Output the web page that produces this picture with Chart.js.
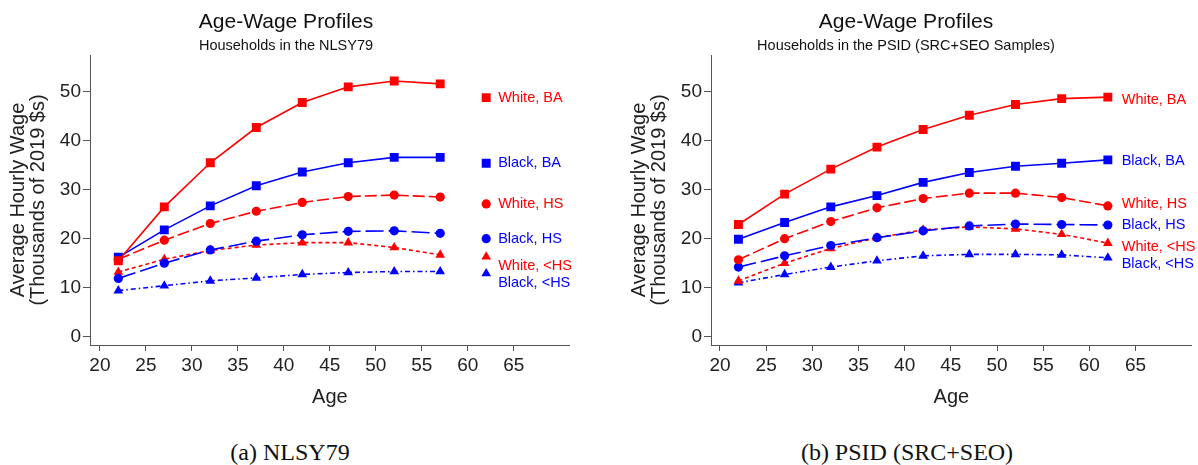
<!DOCTYPE html>
<html><head><meta charset="utf-8">
<script src="https://cdn.jsdelivr.net/npm/chart.js@4.4.1/dist/chart.umd.min.js"></script>
<style>
html,body{margin:0;padding:0;background:#fff;width:1198px;height:465px;overflow:hidden;position:relative}
canvas{position:absolute;top:0}
#ca{left:0}
#cb{left:620px}
.cap{position:absolute;top:440px;font-family:"Liberation Serif","Times New Roman",serif;font-size:24px;line-height:24px;white-space:nowrap;transform:translateX(-50%);color:#111}
</style></head><body>
<canvas id="ca" width="576" height="420"></canvas>
<canvas id="cb" width="578" height="420"></canvas>
<div class="cap" style="left:290px">(a) NLSY79</div>
<div class="cap" style="left:907px">(b) PSID (SRC+SEO)</div>
<script>
// ---- data ----
const xTicks = [20,25,30,35,40,45,50,55,60,65];
const yTicks = [0,10,20,30,40,50];
const seriesNames = ['White, BA','Black, BA','White, HS','Black, HS','White, <HS','Black, <HS'];

const agesNLSY = [22,27,32,37,42,47,52,57];
const nlsyWhiteBA  = [15.5,26.5,35.5,42.7,47.8,51.0,52.2,51.6];
const nlsyBlackBA  = [16.2,21.8,26.7,30.8,33.6,35.5,36.6,36.6];
const nlsyWhiteHS  = [15.8,19.7,23.1,25.6,27.4,28.6,28.9,28.5];
const nlsyBlackHS  = [11.9,15.0,17.7,19.5,20.8,21.5,21.6,21.1];
const nlsyWhiteLHS = [13.2,15.8,17.6,18.7,19.2,19.2,18.2,16.7];
const nlsyBlackLHS = [9.4,10.4,11.4,12.0,12.7,13.1,13.3,13.3];
const nlsyKeyAge = 62;
const nlsyKeyY   = [48.8,35.4,27.1,20.0,16.3,12.9];
const nlsyLabelAge = 63.3;
const nlsyLabelY = [48.8,35.4,27.1,20.0,14.4,10.9];

const agesPSID = [22,27,32,37,42,47,52,57,62];
const psidWhiteBA  = [22.9,29.1,34.2,38.7,42.3,45.2,47.4,48.6,48.9];
const psidBlackBA  = [19.9,23.3,26.5,28.8,31.5,33.5,34.8,35.4,36.1];
const psidWhiteHS  = [15.7,20.0,23.5,26.3,28.2,29.3,29.3,28.4,26.7];
const psidBlackHS  = [14.2,16.5,18.6,20.2,21.6,22.6,23.0,22.9,22.8];
const psidWhiteLHS = [11.4,15.0,18.0,20.2,21.8,22.4,22.0,20.9,19.1];
const psidBlackLHS = [11.0,12.7,14.2,15.5,16.5,16.8,16.8,16.7,16.1];
const psidLabelAge = 63.5;
const psidLabelY = [48.3,35.9,27.0,22.8,18.4,14.8];

// ---- styles ----
const FAM = '"Liberation Sans", Arial, Helvetica, sans-serif';
const RED = 'rgb(255,0,0)', BLUE = 'rgb(0,0,255)';
const colors = [RED,BLUE,RED,BLUE,RED,BLUE];
const styles = ['rect','rect','circle','circle','triangle','triangle'];
const radii  = [6.3,6.3,4.6,4.6,5.6,5.6];
const dashes = [[],[],[12,4],[18,5],[4,3],[5,3,1.5,3]];
const AX = '#555';

function pts(xs, ys){ return ys.map((v,i)=>({x:xs[i], y:v})); }

function lineDatasets(ages, arrs){
  return arrs.map((a,i)=>({
    label: seriesNames[i], data: pts(ages,a),
    borderColor: colors[i], backgroundColor: colors[i],
    pointBackgroundColor: colors[i], pointBorderColor: colors[i], pointBorderWidth: 0,
    pointStyle: styles[i], pointRadius: radii[i],
    borderWidth: 1.6, borderDash: dashes[i], tension: 0, showLine: true, fill:false
  }));
}

function labelPlugin(xVal, ys){
  return {
    id: 'endLabels',
    afterDatasetsDraw(chart){
      const {ctx, scales:{x,y}} = chart;
      ctx.save();
      ctx.font = '14.5px ' + FAM;
      ctx.textBaseline = 'middle'; ctx.textAlign = 'left';
      seriesNames.forEach((n,i)=>{
        ctx.fillStyle = colors[i];
        ctx.fillText(n, x.getPixelForValue(xVal), y.getPixelForValue(ys[i]));
      });
      ctx.restore();
    }
  };
}

function makeOptions(sub, xmin, xmax, yWidth, yTitlePad, padRight){
  return {
    responsive:false, animation:false, events:[],
    layout:{padding:{left:0,right:padRight,top:0,bottom:0}},
    plugins:{
      legend:{display:false}, tooltip:{enabled:false},
      title:{display:true, text:'Age-Wage Profiles', color:'#111',
        font:{family:FAM,size:21,weight:'normal'}, padding:{top:10,bottom:2}},
      subtitle:{display:true, text:sub, color:'#111',
        font:{family:FAM,size:14.5,weight:'normal'}, padding:{top:0,bottom:0.4}}
    },
    scales:{
      x:{type:'linear', min:xmin, max:xmax,
        afterBuildTicks:s=>{ s.ticks = xTicks.map(v=>({value:v})); },
        afterFit:s=>{ s.height = 75; },
        grid:{display:true, drawOnChartArea:false, drawTicks:true, tickLength:6, color:AX, lineWidth:1},
        border:{display:true, color:AX, width:1},
        ticks:{font:{family:FAM,size:19}, color:'#222', padding:3, maxRotation:0, autoSkip:false},
        title:{display:true, text:'Age', color:'#222', font:{family:FAM,size:20}, padding:{top:0,bottom:11}}
      },
      y:{type:'linear', min:-1.7, max:57.5,
        afterBuildTicks:s=>{ s.ticks = yTicks.map(v=>({value:v})); },
        afterFit:s=>{ s.width = yWidth; },
        grid:{display:true, drawOnChartArea:false, drawTicks:true, tickLength:7, color:AX, lineWidth:1},
        border:{display:true, color:AX, width:1},
        ticks:{font:{family:FAM,size:19}, color:'#222', padding:2},
        title:{display:true, text:['Average Hourly Wage','(Thousands of 2019 $s)'], color:'#222',
          font:{family:FAM,size:20,lineHeight:1}, padding:{top:yTitlePad,bottom:0}}
      }
    }
  };
}

const nlsyDatasets = lineDatasets(agesNLSY,[nlsyWhiteBA,nlsyBlackBA,nlsyWhiteHS,nlsyBlackHS,nlsyWhiteLHS,nlsyBlackLHS]);
nlsyDatasets.push({
  label:'key', data: nlsyKeyY.map(v=>({x:nlsyKeyAge, y:v})), showLine:false,
  pointStyle: styles, pointRadius: radii, pointBorderWidth:0,
  pointBackgroundColor: colors, pointBorderColor: colors
});

new Chart(document.getElementById('ca'), {
  type:'line',
  data:{datasets: nlsyDatasets},
  options: makeOptions('Households in the NLSY79', 18.92, 71.08, 90, 8, 4),
  plugins:[labelPlugin(nlsyLabelAge, nlsyLabelY)]
});

new Chart(document.getElementById('cb'), {
  type:'line',
  data:{datasets: lineDatasets(agesPSID,[psidWhiteBA,psidBlackBA,psidWhiteHS,psidBlackHS,psidWhiteLHS,psidBlackLHS])},
  options: makeOptions('Households in the PSID (SRC+SEO Samples)', 19.03, 71.08, 91, 9, 6),
  plugins:[labelPlugin(psidLabelAge, psidLabelY)]
});
</script>
</body></html>
